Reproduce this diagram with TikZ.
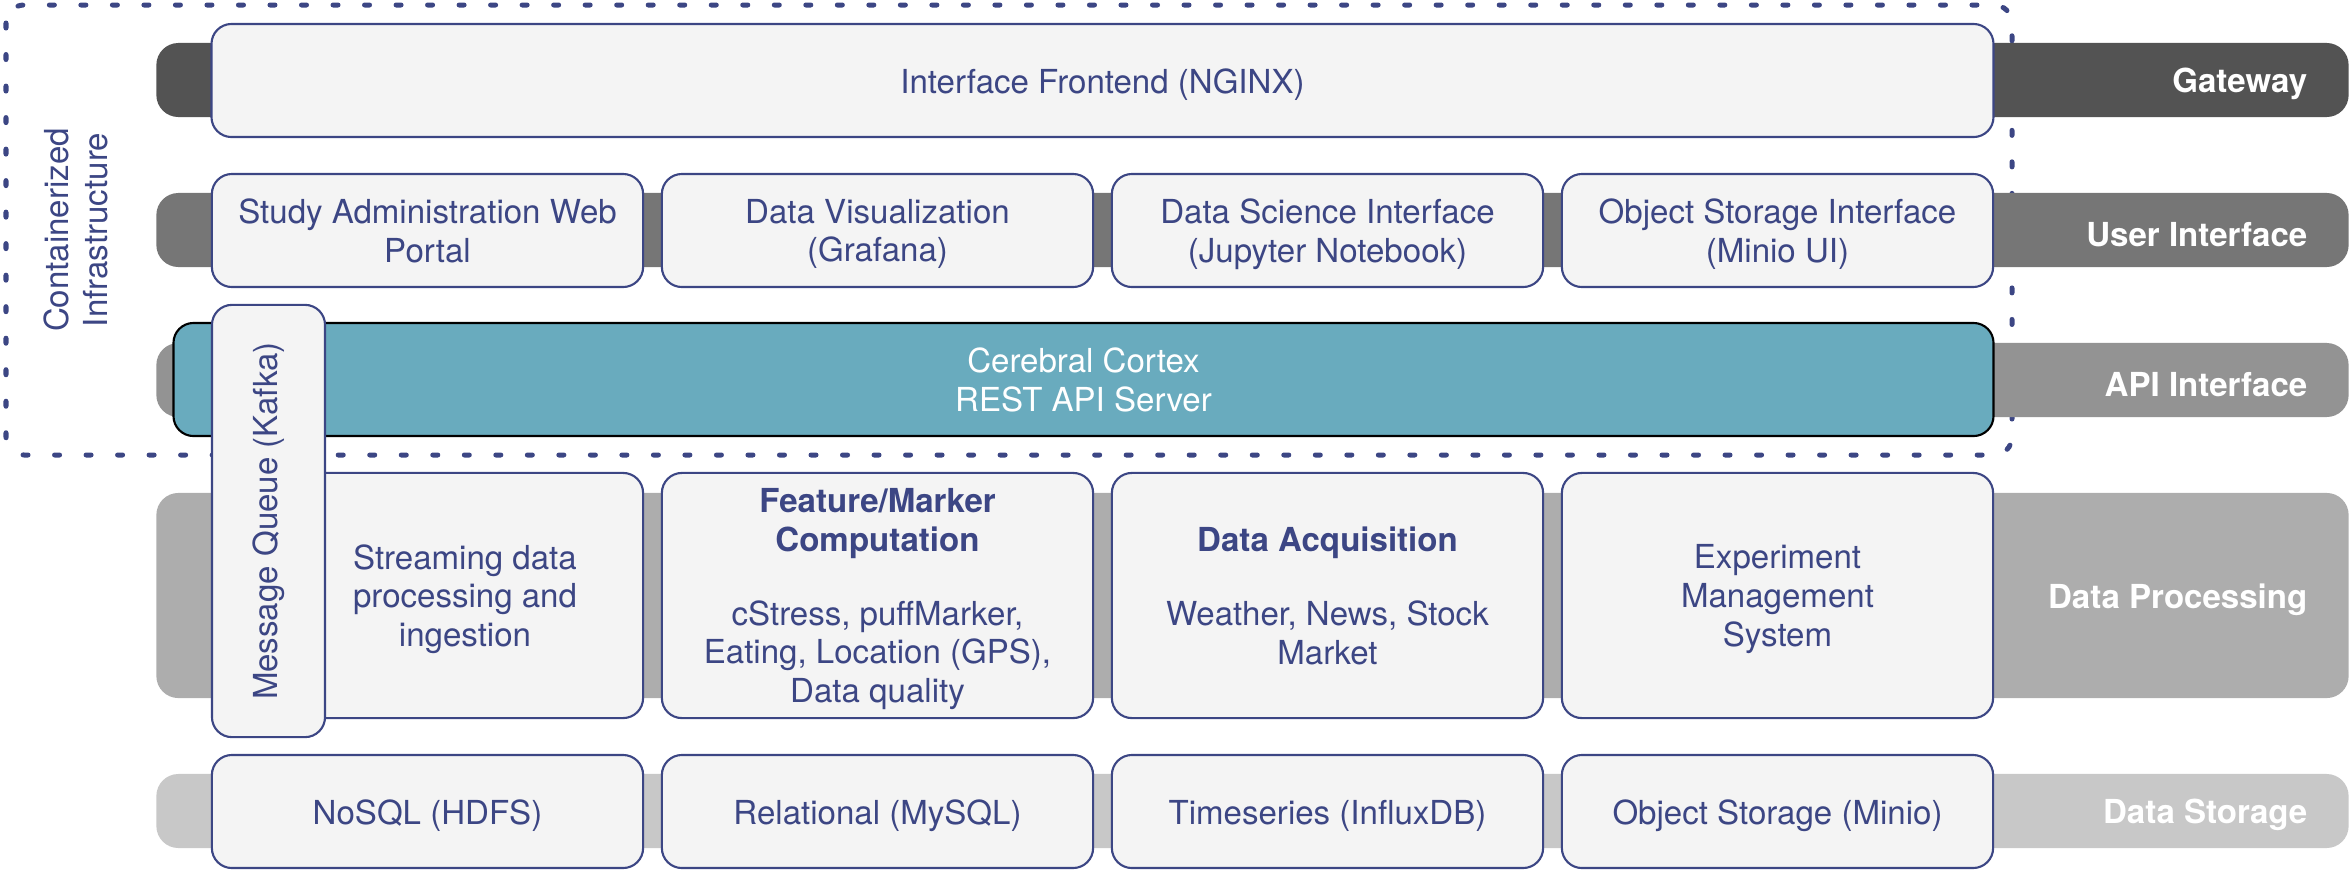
\documentclass[tikz,border=0pt]{standalone}
\usepackage{fontspec}
\setmainfont{TeX Gyre Heros}
\definecolor{navy}{HTML}{3C4684}
\definecolor{boxgray}{HTML}{F4F4F4}
\definecolor{teal}{HTML}{69ABBE}
\definecolor{gwgray}{HTML}{535353}
\definecolor{uigray}{HTML}{767676}
\definecolor{apigray}{HTML}{939393}
\definecolor{procgray}{HTML}{ADADAD}
\definecolor{storgray}{HTML}{C8C8C8}
\begin{document}
\begin{tikzpicture}[
x=0.01cm,
y=-0.01cm,
every node/.style={
font=\fontsize{9.4pt}{11pt}\selectfont,
text=navy,
align=center,
inner sep=0pt
},
lowtext/.style={
execute at begin node={\rule{0pt}{1em}}
},
multi/.style={
text depth=-0.5pt
},
box/.style={
draw=navy,
line width=0.6pt,
fill=boxgray,
rounded corners=0.2cm,
lowtext
},
cell/.style={
box,
minimum width=4.31cm,
minimum height=1.13cm
},
tallcell/.style={
cell,
multi,
minimum height=2.45cm
},
band/.style={
rounded corners=0.22cm,
minimum width=21.91cm,
minimum height=0.74cm
},
lbl/.style={
anchor=east,
text=white,
font=\fontsize{9.4pt}{11pt}\selectfont\bfseries,
lowtext
}
]

\useasboundingbox (0,0) rectangle (2350,872);

% containers
\draw[navy, line width=0.05cm, line cap=round,
dash pattern=on 0.05cm off 0.265cm, rounded corners=0.18cm]
(6,5) rectangle (2012,455);

\node (CI)
at (76,230)
[rotate=90]
{Containerized\\Infrastructure};

% layers
\node (GWB)
at (1252.5,80)
[band, fill=gwgray]
{};

\node (UIB)
at (1252.5,230)
[band, fill=uigray]
{};

\node (APIB)
at (1252.5,380)
[band, fill=apigray]
{};

\node (PRB)
at (1252.5,595.5)
[band, fill=procgray, minimum height=2.05cm]
{};

\node (STB)
at (1252.5,811)
[band, fill=storgray]
{};

\node (GWL)
at (2308,80)
[lbl]
{Gateway};

\node (UIL)
at (2308,230)
[lbl]
{User Interface};

\node (APIL)
at (2308,380)
[lbl]
{API Interface};

\node (PRL)
at (2308,595.5)
[lbl]
{Data Processing};

\node (STL)
at (2308,811)
[lbl]
{Data Storage};

% gateway
\node (NGX)
at (1102.5,80.5)
[box, minimum width=17.81cm, minimum height=1.13cm]
{Interface Frontend (NGINX)};

% user interface
\node (SAP)
at (427.5,230.5)
[cell, multi]
{Study Administration Web\\Portal};

\node (VIS)
at (877.5,230.5)
[cell, multi]
{Data Visualization\\(Grafana)};

\node (JUP)
at (1327.5,230.5)
[cell, multi]
{Data Science Interface\\(Jupyter Notebook)};

\node (MUI)
at (1777.5,230.5)
[cell, multi]
{Object Storage Interface\\(Minio UI)};

% api
\node (CC)
at (1083.5,379.5)
[box, multi, draw=black, fill=teal, text=white,
minimum width=18.19cm, minimum height=1.13cm]
{Cerebral Cortex\\REST API Server};

% data processing
\node (STR)
at (465,595.5)
[tallcell, minimum width=3.56cm]
{Streaming data\\processing and\\ingestion};

\node (FMC)
at (877.5,595.5)
[tallcell]
{\textbf{Feature/Marker}\\\textbf{Computation}\\[10pt]cStress, puffMarker,\\Eating, Location (GPS),\\Data quality};

\node (DAQ)
at (1327.5,595.5)
[tallcell]
{\textbf{Data Acquisition}\\[10pt]Weather, News, Stock\\Market};

\node (EMS)
at (1777.5,595.5)
[tallcell]
{Experiment\\Management\\System};

\node (MQ)
at (268.5,521)
[box, minimum width=1.13cm, minimum height=4.32cm]
{};

\node (MQT)
at (268.5,521)
[rotate=90]
{Message Queue (Kafka)};

% data storage
\node (HDFS)
at (427.5,811.5)
[cell]
{NoSQL (HDFS)};

\node (SQL)
at (877.5,811.5)
[cell]
{Relational (MySQL)};

\node (IDB)
at (1327.5,811.5)
[cell]
{Timeseries (InfluxDB)};

\node (MIN)
at (1777.5,811.5)
[cell]
{Object Storage (Minio)};

\end{tikzpicture}
\end{document}
